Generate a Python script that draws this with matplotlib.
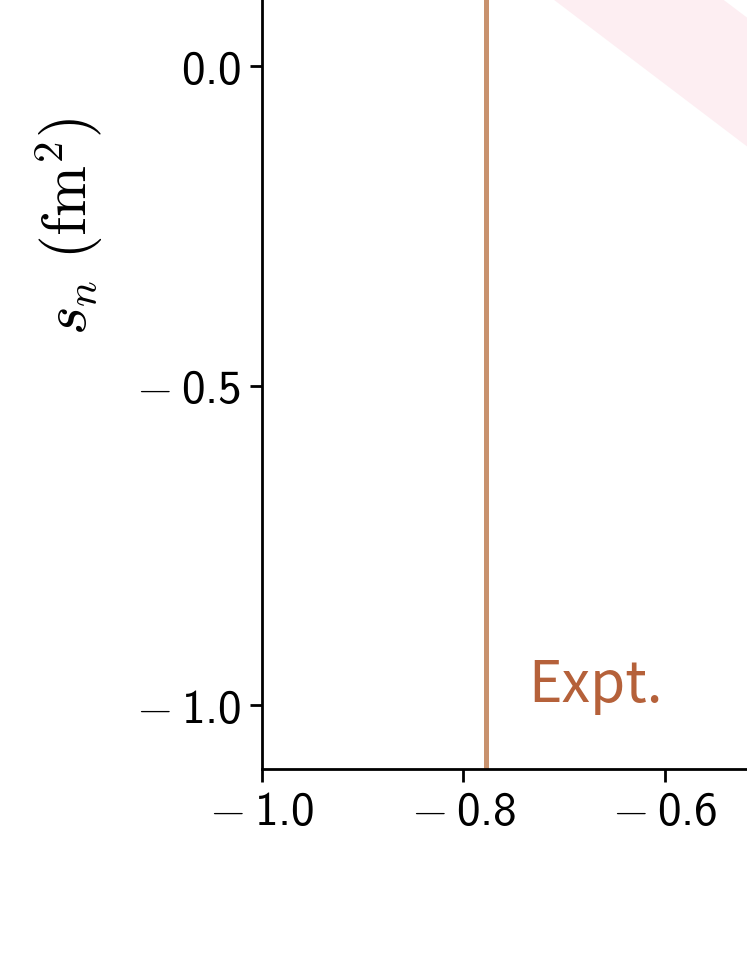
import matplotlib
matplotlib.use("Agg")
import matplotlib.pyplot as plt
from matplotlib.ticker import FuncFormatter

plt.rcParams["mathtext.fontset"] = "cm"
# sans digits for tick labels via the custom math set
plt.rcParams["mathtext.rm"] = "cmss10"
plt.rcParams["mathtext.it"] = "cmss10"
plt.rcParams["mathtext.sf"] = "cmss10"

# correlation band (partly visible, upper right)
band_x = [-0.75, -0.40]
band_lo = [0.152, -0.267]
band_hi = [0.353, -0.065]

# experimental value
expt_x = -0.778
expt_label = "Expt."

xticks = [-1.0, -0.8, -0.6]
yticks = [-1.0, -0.5, 0.0]


def sans_fmt(v, pos):
    s = "%.1f" % v
    if s.startswith("-"):
        return r"$-\:%s$" % s[1:]
    return r"$%s$" % s


fig = plt.figure(figsize=(7.47, 9.67), dpi=100)
ax = fig.add_axes([262 / 747, 198 / 967, 0.809, 1.123])

ax.fill_between(band_x, band_lo, band_hi, color="#fdeef2", lw=0)
ax.axvline(expt_x, color="#c8926e", lw=3.6)
ax.text(-0.736, -0.995, expt_label, color="#b5613a", fontsize=41,
        family=["Noto Sans CJK JP", "DejaVu Sans"], va="baseline")

ax.set_xlim(-1.0, -0.4)
ax.set_ylim(-1.1, 0.6)
ax.set_xticks(xticks)
ax.set_yticks(yticks)
ax.xaxis.set_major_formatter(FuncFormatter(sans_fmt))
ax.yaxis.set_major_formatter(FuncFormatter(sans_fmt))
ax.tick_params(labelsize=34, length=9, width=2, pad=6)
for lab in ax.get_xticklabels() + ax.get_yticklabels():
    lab.set_math_fontfamily("custom")
for sp in ax.spines.values():
    sp.set_linewidth(2)

ax.set_ylabel(r"$s_n\ (\mathrm{fm}^2)$", fontsize=44, math_fontfamily="cm")
ax.yaxis.set_label_coords(-0.26, 0.5)

fig.savefig("out.png", dpi=100)
